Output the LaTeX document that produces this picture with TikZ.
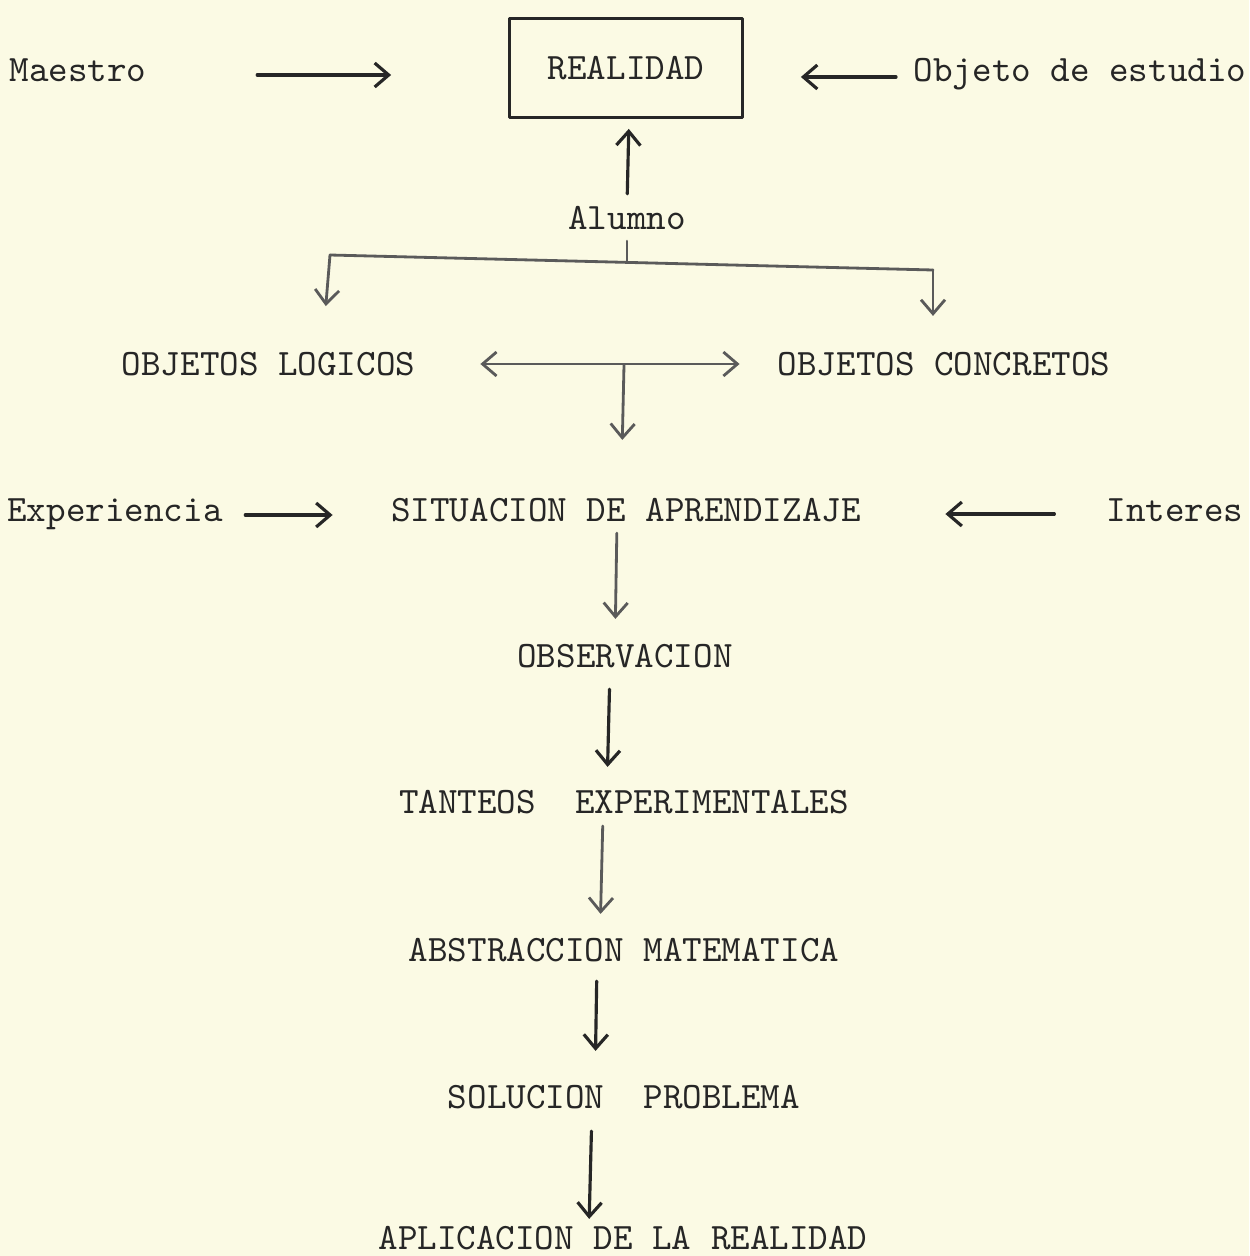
\documentclass[tikz,border=0pt]{standalone}
\usepackage{fontspec}
\usetikzlibrary{arrows.meta}
\definecolor{papel}{RGB}{251,250,228}
\definecolor{tinta}{RGB}{38,38,38}
\definecolor{tintagris}{RGB}{90,90,90}
\begin{document}
\begin{tikzpicture}[line join=round,line cap=round,>={Straight Barb[length=1.4mm,width=2.4mm]},
    txt/.style={inner sep=0pt,text height=2.28mm,text depth=0pt,text=tinta,
        font=\fontsize{10.6}{12}\selectfont\ttfamily},
    caja/.style={txt,draw=tinta,line width=0.8pt,minimum width=2.33cm,minimum height=0.99cm},
    flecha/.style={->,draw=tinta,line width=0.9pt},
    flechagris/.style={->,draw=tintagris,line width=0.8pt},
    linea/.style={draw=tintagris,line width=0.8pt}]
    \fill[papel] (0,0) rectangle (12.49,-12.56);
    \useasboundingbox (0,0) rectangle (12.49,-12.56);
    % nodos
    \node[txt] (maestro) at (0.78,-0.70) {Maestro};
    \node[caja] (realidad) at (6.26,-0.68) {REALIDAD};
    \node[txt] (objeto) at (10.80,-0.70) {Objeto de estudio};
    \node[txt] (alumno) at (6.27,-2.18) {Alumno};
    \node[txt] (logicos) at (2.685,-3.64) {OBJETOS LOGICOS};
    \node[txt] (concretos) at (9.44,-3.64) {OBJETOS CONCRETOS};
    \node[txt] (experiencia) at (1.15,-5.10) {Experiencia};
    \node[txt] (situacion) at (6.26,-5.10) {SITUACION DE APRENDIZAJE};
    \node[txt] (interes) at (11.75,-5.10) {Interes};
    \node[txt] (observacion) at (6.25,-6.56) {OBSERVACION};
    \node[txt] (tanteos) at (6.24,-8.02) {TANTEOS\ \ EXPERIMENTALES};
    \node[txt] (abstraccion) at (6.24,-9.50) {ABSTRACCION MATEMATICA};
    \node[txt] (solucion) at (6.24,-10.97) {SOLUCION\ \ PROBLEMA};
    \node[txt] (aplicacion) at (6.23,-12.38) {APLICACION DE LA REALIDAD};
    \coordinate (nudo) at (6.27,-2.624);
    \coordinate (ramaI) at (3.30,-2.55);
    \coordinate (ramaD) at (9.33,-2.70);
    \coordinate (cruce) at (6.24,-3.65);
    % flechas de arriba
    \draw[flecha,shorten <=1.10cm,shorten >=1.17cm]
        ([yshift=-0.5mm]maestro.east) -- ([yshift=-0.5mm]maestro.east -| realidad.west);
    \draw[flecha,shorten <=0.17cm,shorten >=0.57cm]
        ([yshift=-0.7mm]objeto.west) -- ([yshift=-0.7mm]objeto.west -| realidad.east);
    \draw[flecha,shorten <=0.12cm,shorten >=0.10cm]
        (alumno.north) -- ([xshift=0.2mm]alumno.north |- realidad.south);
    % ramas
    \draw[linea,shorten <=0.11cm] (alumno.south) -- (nudo);
    \draw[linea] (ramaI) -- (ramaD);
    \draw[flechagris,shorten >=0.46cm] (ramaI) -- ([xshift=-0.8mm]ramaI |- logicos.north);
    \draw[flechagris,shorten >=0.36cm] (ramaD) -- (ramaD |- concretos.north);
    \draw[flechagris,<->,shorten <=0.645cm,shorten >=0.375cm] (logicos.east) -- (concretos.west);
    \draw[flechagris,shorten >=0.58cm] (cruce) -- ([xshift=-0.3mm]cruce |- situacion.north);
    \draw[flecha,shorten <=0.22cm,shorten >=0.58cm]
        ([yshift=-0.5mm]experiencia.east) -- ([yshift=-0.5mm]experiencia.east -| situacion.west);
    \draw[flecha,shorten <=0.515cm,shorten >=0.84cm]
        ([yshift=-0.4mm]interes.west) -- ([yshift=-0.4mm]interes.west -| situacion.east);
    % cadena vertical
    \draw[flechagris,shorten <=0.11cm,shorten >=0.25cm]
        ([xshift=-0.9mm]situacion.south) -- ([xshift=-1.0mm]observacion.north);
    \draw[flecha,shorten <=0.21cm,shorten >=0.23cm]
        ([xshift=-1.5mm]observacion.south) -- ([xshift=-1.7mm]tanteos.north);
    \draw[flechagris,shorten <=0.12cm,shorten >=0.24cm]
        ([xshift=-2.1mm]tanteos.south) -- ([xshift=-2.4mm]abstraccion.north);
    \draw[flecha,shorten <=0.19cm,shorten >=0.34cm]
        ([xshift=-2.7mm]abstraccion.south) -- ([xshift=-2.9mm]solucion.north);
    \draw[flecha,shorten <=0.22cm,shorten >=0.07cm]
        ([xshift=-3.2mm]solucion.south) -- ([xshift=-3.4mm]aplicacion.north);
\end{tikzpicture}
\end{document}
